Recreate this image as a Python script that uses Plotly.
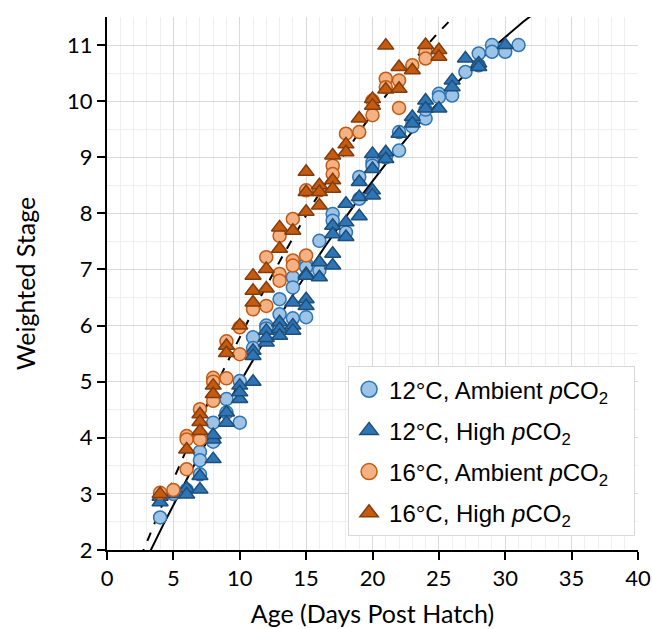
import numpy as np
import plotly.graph_objects as go

# ---- data ----
# 12°C, Ambient pCO2 (light blue circles)
a12_x = [4, 4, 5, 6, 7, 7, 7, 8, 8, 9, 9, 10, 10, 11, 11, 12, 12, 13, 13, 14, 14, 14,
         15, 15, 15, 16, 16, 17, 17, 18, 19, 19, 20, 20, 21, 22, 22, 23, 23, 24, 24,
         25, 25, 26, 27, 28, 28, 29, 29, 30, 31]
a12_y = [2.58, 2.95, 3.0, 3.07, 3.75, 3.6, 3.35, 4.27, 3.93, 4.69, 4.45, 4.27, 5.01, 5.79, 5.6,
         6.0, 5.95, 6.47, 6.2, 6.86, 6.68, 6.13, 7.1, 7.04, 6.15, 7.51, 6.98, 7.99, 7.87,
         7.66, 8.65, 8.26, 8.91, 8.85, 9.0, 9.45, 9.12, 9.65, 9.55, 9.69, 9.85,
         10.13, 10.07, 10.1, 10.52, 10.64, 10.85, 11.0, 10.88, 10.88, 11.0]

# 12°C, High pCO2 (dark blue triangles)
h12_x = [4, 4, 5, 6, 6, 7, 7, 8, 8, 8, 9, 9, 10, 10, 10, 11, 11, 11, 12, 12, 12, 13, 13, 13,
         14, 14, 14, 15, 15, 15, 15, 16, 16, 17, 17, 17, 17, 18, 18, 18, 19, 19, 19,
         20, 20, 20, 20, 21, 21, 22, 23, 23, 24, 24, 25, 26, 26, 27, 28, 28, 30]
h12_y = [2.95, 2.85, 3.0, 3.1, 2.99, 3.32, 3.08, 3.97, 3.62, 4.05, 4.45, 4.27, 4.69, 4.93, 4.81,
         5.55, 5.46, 5.0, 5.91, 5.7, 5.78, 6.06, 5.94, 5.82, 6.41, 6.0, 5.91,
         6.92, 6.89, 6.47, 6.35, 7.13, 6.86, 7.78, 7.63, 7.28, 7.07, 8.17, 7.84, 7.58,
         8.56, 8.29, 7.95, 9.06, 8.79, 8.41, 8.32, 9.09, 8.97, 9.42, 9.72, 9.6,
         10.01, 9.87, 9.87, 10.37, 10.25, 10.76, 10.67, 10.61, 11.0]

# 16°C, Ambient pCO2 (light orange circles)
a16_x = [4, 5, 6, 6, 6, 7, 7, 8, 8, 8, 9, 9, 10, 10, 11, 12, 12, 13, 13, 13, 14, 14, 14,
         15, 15, 16, 17, 17, 18, 19, 20, 20, 21, 21, 22, 22, 23, 24, 24]
a16_y = [3.02, 3.07, 4.03, 3.97, 3.44, 4.51, 3.97, 5.07, 5.0, 4.66, 5.72, 5.06, 5.97, 5.49,
         6.29, 7.22, 6.35, 7.6, 6.92, 6.8, 7.9, 7.16, 7.07, 8.41, 7.25, 8.41, 8.85, 8.7,
         9.42, 9.45, 10.01, 9.75, 10.4, 10.25, 10.37, 9.88, 10.64, 10.88, 10.76]

# 16°C, High pCO2 (dark orange triangles)
h16_x = [4, 6, 7, 7, 7, 8, 8, 9, 9, 10, 11, 11, 11, 12, 12, 13, 13, 14, 15, 15, 15,
         16, 16, 16, 17, 17, 17, 18, 18, 19, 20, 20, 21, 21, 22, 22, 23, 24, 25, 25]
h16_y = [3.0, 3.79, 4.42, 4.28, 4.12, 4.93, 4.78, 5.64, 5.51, 6.0, 6.89, 6.62, 6.41,
         7.01, 6.66, 7.75, 7.37, 7.69, 8.74, 8.03, 8.38, 8.5, 8.38, 8.14, 9.03, 8.59, 8.44,
         9.23, 9.09, 9.69, 10.04, 9.92, 10.99, 10.21, 10.61, 10.22, 10.55, 11.0, 10.91, 10.79]

# polynomial trend-line coefficients (c0, c1, c2)
trend12 = [0.3675, 0.5131, -0.005128]   # 12°C, solid
trend16 = [0.370, 0.6146, -0.007202]    # 16°C, dashed

x_ticks = [0, 5, 10, 15, 20, 25, 30, 35, 40]
y_ticks = [2, 3, 4, 5, 6, 7, 8, 9, 10, 11]

names = ["12°C, Ambient <i>p</i>CO<sub>2</sub>",
         "12°C, High <i>p</i>CO<sub>2</sub>",
         "16°C, Ambient <i>p</i>CO<sub>2</sub>",
         "16°C, High <i>p</i>CO<sub>2</sub>"]

fig = go.Figure()

xt = np.linspace(2.0, 34.0, 200)
def poly(c, x):
    return c[0] + c[1] * x + c[2] * x ** 2

fig.add_trace(go.Scatter(x=xt, y=poly(trend12, xt), mode="lines",
                         line=dict(color="black", width=2), showlegend=False, hoverinfo="skip"))
fig.add_trace(go.Scatter(x=xt, y=poly(trend16, xt), mode="lines",
                         line=dict(color="black", width=2, dash="dash"), showlegend=False, hoverinfo="skip"))

series = [
    (a12_x, a12_y, "circle", "#9dc3e6", "#2e75b6", 13),
    (h12_x, h12_y, "triangle-up", "#2e75b6", "#1f4e79", 14),
    (a16_x, a16_y, "circle", "#f4b183", "#c55a11", 13),
    (h16_x, h16_y, "triangle-up", "#c55a11", "#843c0c", 14),
]
for (xs, ys, sym, fill, edge, sz), nm in zip(series, names):
    fig.add_trace(go.Scatter(x=xs, y=ys, mode="markers", name=nm, legendgroup=nm,
                             showlegend=False,
                             marker=dict(symbol=sym, size=sz, color=fill,
                                         line=dict(color=edge, width=1.5))))
    # legend entry with the larger legend symbol
    fig.add_trace(go.Scatter(x=[None], y=[None], mode="markers",
                             name=nm + "&nbsp;&nbsp;&nbsp;", legendgroup=nm,
                             marker=dict(symbol=sym, size=18, color=fill,
                                         line=dict(color=edge, width=1.5))))

fam = "Lato, Open Sans, sans-serif"
axis_font = dict(family=fam, size=22, color="black")
title_font = dict(family=fam, size=25, color="black")

fig.update_xaxes(range=[0, 40], tickvals=x_ticks, showgrid=True, gridcolor="#d9d9d9", gridwidth=1,
                 minor=dict(dtick=1, showgrid=True, gridcolor="#efefef", gridwidth=1),
                 showline=True, linecolor="black", linewidth=2, zeroline=False,
                 ticks="outside", ticklen=8, tickwidth=2, tickcolor="black",
                 tickfont=axis_font, automargin=False,
                 title=dict(text="Age (Days Post Hatch)", font=title_font, standoff=15))
fig.update_yaxes(range=[2, 11.5], tickvals=y_ticks, showgrid=True, gridcolor="#d9d9d9", gridwidth=1,
                 minor=dict(dtick=0.5, showgrid=True, gridcolor="#efefef", gridwidth=1),
                 showline=True, linecolor="black", linewidth=2, zeroline=False,
                 ticks="outside", ticklen=8, tickwidth=2, tickcolor="black",
                 tickfont=axis_font, automargin=False,
                 title=dict(text="Weighted Stage", font=title_font, standoff=24))

fig.update_layout(
    width=652, height=629,
    margin=dict(l=107, r=14, t=17, b=79),
    plot_bgcolor="white", paper_bgcolor="white",
    legend=dict(x=0.454, y=0.345, xanchor="left", yanchor="top",
                bgcolor="white", bordercolor="#d9d9d9", borderwidth=1,
                font=dict(family="Liberation Sans, Arial, sans-serif", size=24, color="black"),
                traceorder="grouped", tracegroupgap=7),
)

fig.write_html("out.html", config={"displayModeBar": False})

# remove the browser's default page margin so the figure sits at the window origin
with open("out.html", "r", encoding="utf-8") as f:
    html = f.read()
html = html.replace("<head>", "<head><style>html,body{margin:0;padding:0;overflow:hidden;}</style>", 1)
with open("out.html", "w", encoding="utf-8") as f:
    f.write(html)
